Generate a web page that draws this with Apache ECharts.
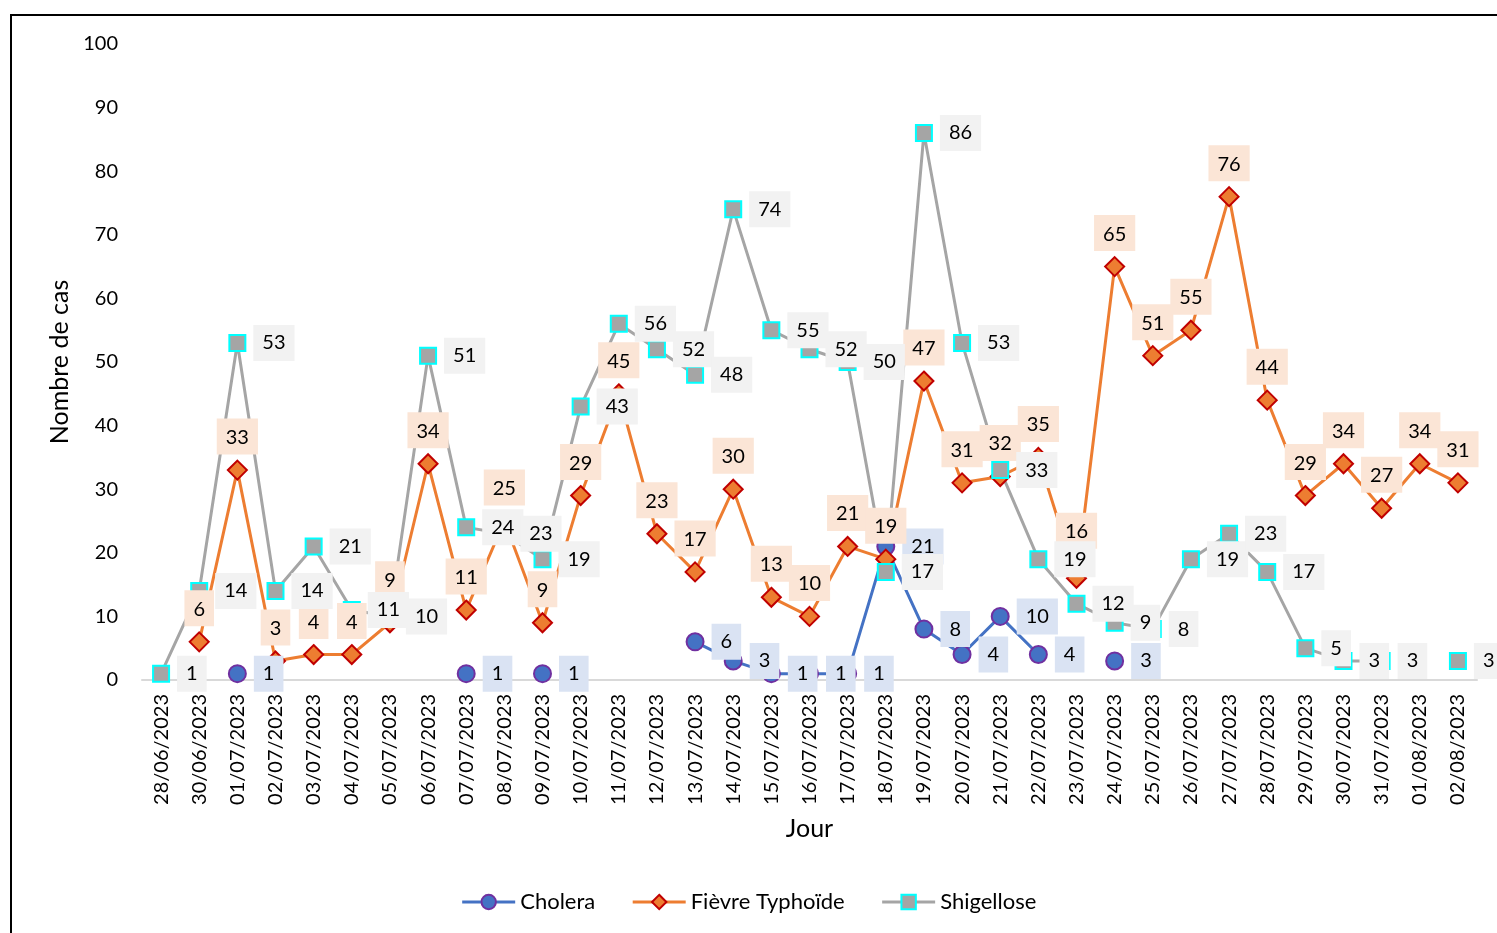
<!DOCTYPE html>
<html>
<head>
<meta charset="utf-8">
<script src="https://cdn.jsdelivr.net/npm/echarts@6/dist/echarts.min.js"></script>
<style>
  html, body { margin: 0; padding: 0; background: #fff; }
  #main { width: 1497px; height: 933px; }
</style>
</head>
<body>
<div id="main"></div>
<script>
var jours = ['28/06/2023', '30/06/2023', '01/07/2023', '02/07/2023', '03/07/2023', '04/07/2023',
  '05/07/2023', '06/07/2023', '07/07/2023', '08/07/2023', '09/07/2023', '10/07/2023', '11/07/2023',
  '12/07/2023', '13/07/2023', '14/07/2023', '15/07/2023', '16/07/2023', '17/07/2023', '18/07/2023',
  '19/07/2023', '20/07/2023', '21/07/2023', '22/07/2023', '23/07/2023', '24/07/2023', '25/07/2023',
  '26/07/2023', '27/07/2023', '28/07/2023', '29/07/2023', '30/07/2023', '31/07/2023', '01/08/2023',
  '02/08/2023'];

var cholera = [null, null, 1, null, null, null, null, null, 1, null, 1, null, null, null,
  6, 3, 1, 1, 1, 21, 8, 4, 10, 4, null, 3, null, null, null, null, null, null, null, null, null];

var typhoide = [null, 6, 33, 3, 4, 4, 9, 34, 11, 25, 9, 29, 45, 23, 17, 30, 13, 10, 21, 19,
  47, 31, 32, 35, 16, 65, 51, 55, 76, 44, 29, 34, 27, 34, 31];

var shigellose = [1, 14, 53, 14, 21, 11, 10, 51, 24, 23, 19, 43, 56, 52, 48, 74, 55, 52, 50, 17,
  86, 53, 33, 19, 12, 9, 8, 19, 23, 17, 5, 3, 3, null, 3];

var police = 'Lato, "Open Sans", sans-serif';

// étiquettes déplacées à la main dans l'original (index -> décalage vertical)
var decalagesTyphoide = { 6: -10, 24: -14 };

// 基于准备好的dom，初始化echarts实例
var myChart = echarts.init(document.getElementById('main'));

function etiquette(fond, pos) {
    return {
        show: true,
        position: pos,
        distance: pos === 'top' ? 5 : 7,
        color: '#000',
        fontSize: 20,
        fontFamily: police,
        backgroundColor: fond,
        padding: [9, 9, 7, 9]
    };
}

var typhoideData = typhoide.map(function (v, i) {
    if (decalagesTyphoide[i] !== undefined) {
        return { value: v, label: { offset: [0, decalagesTyphoide[i]] } };
    }
    return v;
});

var option = {
    animation: false,
    textStyle: { fontFamily: police },
    graphic: [{
        type: 'rect',
        shape: { x: 11, y: 15, width: 1600, height: 1000 },
        style: { fill: null, stroke: '#000', lineWidth: 2 },
        silent: true
    }],
    grid: { left: 142, right: 20, top: 44, bottom: 253 },
    legend: {
        top: 886,
        left: 'center',
        itemWidth: 53,
        itemHeight: 18,
        itemGap: 36,
        lineStyle: { width: 3 },
        textStyle: { fontSize: 22, color: '#000', fontFamily: police },
        data: ['Cholera', 'Fièvre Typhoïde', 'Shigellose']
    },
    xAxis: {
        type: 'category',
        data: jours,
        name: 'Jour',
        nameLocation: 'middle',
        nameGap: 136,
        nameTextStyle: { fontSize: 25, color: '#000' },
        axisLine: { lineStyle: { color: '#d9d9d9', width: 2 } },
        axisTick: { show: false },
        axisLabel: { rotate: 90, fontSize: 20, color: '#000', margin: 14, interval: 0 }
    },
    yAxis: {
        type: 'value',
        min: 0,
        max: 100,
        interval: 10,
        name: 'Nombre de cas',
        nameLocation: 'middle',
        nameGap: 70,
        nameTextStyle: { fontSize: 25, color: '#000' },
        axisLine: { show: false },
        axisTick: { show: false },
        splitLine: { show: false },
        axisLabel: { fontSize: 20, color: '#000', margin: 24 }
    },
    series: [{
        name: 'Cholera',
        type: 'line',
        data: cholera,
        symbol: 'circle',
        symbolSize: 17,
        showAllSymbol: true,
        lineStyle: { color: '#4472C4', width: 3 },
        itemStyle: { color: '#4472C4', borderColor: '#7030A0', borderWidth: 2 },
        label: etiquette('#dae3f3', 'right')
    }, {
        name: 'Fièvre Typhoïde',
        type: 'line',
        data: typhoideData,
        symbol: 'diamond',
        symbolSize: 19,
        showAllSymbol: true,
        lineStyle: { color: '#ED7D31', width: 3 },
        itemStyle: { color: '#ED7D31', borderColor: '#C00000', borderWidth: 2 },
        label: etiquette('#fbe5d6', 'top')
    }, {
        name: 'Shigellose',
        type: 'line',
        data: shigellose,
        symbol: 'rect',
        symbolSize: 16,
        showAllSymbol: true,
        lineStyle: { color: '#A5A5A5', width: 3 },
        itemStyle: { color: '#A5A5A5', borderColor: '#00FFFF', borderWidth: 2 },
        label: etiquette('#f2f2f2', 'right')
    }]
};
// 使用刚指定的配置项和数据显示图表。
myChart.setOption(option);
</script>
</body>
</html>
